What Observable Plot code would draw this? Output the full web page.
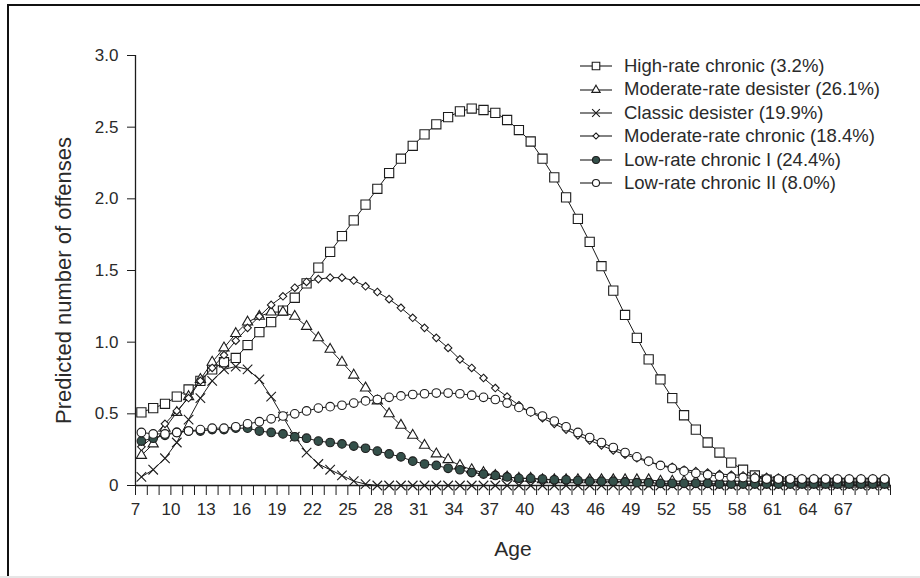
<!DOCTYPE html>
<html>
<head>
<meta charset="utf-8">
<script src="https://cdn.jsdelivr.net/npm/d3@7"></script>
<script src="https://cdn.jsdelivr.net/npm/@observablehq/plot@0.6"></script>
<style>
  body { margin: 0; background: #fff; }
  #wrap { position: relative; width: 920px; height: 578px; overflow: hidden;
          font-family: "Liberation Sans", Arial, Helvetica, sans-serif; background: #fff; }
  #frame { position: absolute; left: 7px; top: 4px; width: 930px; height: 572px;
           border-left: 2.5px solid #111; border-top: 2.5px solid #111; box-sizing: border-box; pointer-events: none; }
  #bottomstrip { position: absolute; left: 0; top: 576px; width: 920px; height: 2px; background: #e6e6e6; }
  #legend { position: absolute; left: 580px; top: 54.5px; }
  .lrow { display: flex; align-items: center; height: 23.4px; }
  .lrow svg { width: 34px; height: 22px; margin-right: 10px; overflow: visible; }
  .lrow span { font-size: 18.5px; color: #2a2a2a; white-space: nowrap; line-height: 1; }
</style>
</head>
<body>
<div id="wrap"></div>
<script>
// Ages (years 7 to 70), one predicted value per age for each trajectory group
const ages = [7,8,9,10,11,12,13,14,15,16,17,18,19,20,21,22,23,24,25,26,27,28,29,30,31,32,33,34,35,36,37,38,
  39,40,41,42,43,44,45,46,47,48,49,50,51,52,53,54,55,56,57,58,59,60,61,62,63,64,65,66,67,68,69,70];

const yearTicks = [7,8,9,10,11,12,13,14,15,16,17,18,19,20,21,22,23,24,25,26,27,28,29,30,31,32,33,34,35,36,37,38,
  39,40,41,42,43,44,45,46,47,48,49,50,51,52,53,54,55,56,57,58,59,60,61,62,63,64,65,66,67,68,69,70,71];
const labelTicks = [7,10,13,16,19,22,25,28,31,34,37,40,43,46,49,52,55,58,61,64,67];
const yTicks = [0, 0.5, 1.0, 1.5, 2.0, 2.5, 3.0];

const highRateChronic = [0.51,0.54,0.57,0.62,0.67,0.73,0.81,0.86,0.89,0.98,1.07,1.14,1.22,1.31,1.41,1.52,
  1.63,1.74,1.85,1.96,2.07,2.18,2.28,2.37,2.45,2.52,2.57,2.61,2.63,2.62,2.60,2.55,2.48,2.40,2.28,
  2.15,2.01,1.86,1.70,1.53,
  1.36,1.19,1.03,0.88,0.74,0.61,0.49,0.39,0.30,0.23,0.16,0.11,0.07,0.04,
  0.03,0.03,0.02,0.02,0.02,0.02,0.02,0.02,0.02,0.02];

const moderateRateDesister = [0.21,0.29,0.40,0.51,0.62,0.74,0.86,0.96,1.06,1.14,1.18,1.21,1.21,1.18,1.11,1.03,
  0.95,0.86,0.77,0.68,0.59,0.50,0.42,0.35,0.28,0.22,0.18,0.14,0.11,0.09,0.07,0.06,0.05,0.05,
  0.04,0.04,0.04,0.04,0.04,0.04,0.04,0.04,0.04,0.04,
  0.03,0.03,0.03,0.03,0.03,0.03,0.03,0.03,0.03,0.03,0.03,0.03,0.03,0.03,0.03,0.03,0.03,0.03,0.03,0.03];

const classicDesister = [0.06,0.11,0.19,0.30,0.46,0.61,0.73,0.81,0.83,0.81,0.74,0.62,0.48,0.34,0.23,0.15,
  0.11,0.07,0.03,0.01,0,0,0,0,0,0,0,0,0,0,0,0,0,0,0,0,0,0,0,0,0,0,0,0,0,0,0,0,0,0,0,0,0,0,0,0,0,0,0,0,0,0,0,0];

const moderateRateChronic = [0.27,0.34,0.43,0.52,0.61,0.73,0.82,0.91,1.01,1.10,1.18,1.26,1.32,1.38,1.42,1.44,
  1.45,1.45,1.43,1.39,1.35,1.30,1.24,1.17,1.10,1.03,0.96,0.88,0.82,0.75,0.68,0.62,0.56,0.51,
  0.47,0.43,0.39,0.35,0.315,0.28,0.245,0.215,0.19,0.165,0.14,0.13,0.11,0.10,0.09,0.08,0.075,0.07,0.065,0.06,
  0.055,0.05,0.05,0.05,0.05,0.05,0.05,0.05,0.05,0.05];

const lowRateChronicI = [0.31,0.33,0.35,0.37,0.38,0.38,0.39,0.39,0.40,0.40,0.38,0.37,0.36,0.34,0.33,0.31,
  0.30,0.29,0.275,0.26,0.24,0.22,0.20,0.17,0.15,0.14,0.12,0.11,0.09,0.08,0.07,0.06,0.05,0.05,
  0.045,0.04,0.04,0.035,0.03,0.03,0.03,0.025,0.02,0.02,0.015,0.015,0.015,0.015,0.015,
  0.01,0.01,0.01,0.01,0.01,0.01,0.01,0.01,0.01,0.01,0.01,0.01,0.01,0.01,0.01];

const lowRateChronicII = [0.37,0.36,0.36,0.37,0.38,0.39,0.40,0.40,0.41,0.43,0.445,0.465,0.485,0.50,0.52,0.54,
  0.55,0.56,0.575,0.59,0.60,0.615,0.625,0.635,0.64,0.645,0.645,0.64,0.63,0.615,0.60,0.575,0.545,0.515,
  0.485,0.45,0.41,0.37,0.335,0.30,0.265,0.23,0.20,0.17,0.14,0.12,0.10,0.085,0.075,0.065,0.06,0.055,0.05,0.045,
  0.045,0.045,0.045,0.045,0.045,0.045,0.045,0.045,0.045,0.045];

const seriesNames = [
  "High-rate chronic (3.2%)",
  "Moderate-rate desister (26.1%)",
  "Classic desister (19.9%)",
  "Moderate-rate chronic (18.4%)",
  "Low-rate chronic I (24.4%)",
  "Low-rate chronic II (8.0%)"
];
const seriesValues = [highRateChronic, moderateRateDesister, classicDesister, moderateRateChronic, lowRateChronicI, lowRateChronicII];

// styles per series
const ink = "#1c1c1c";
const styles = [
  {symbol: "square",   r: 5.2, fill: "white"},
  {symbol: "triangle", r: 3.8, fill: "white"},
  {symbol: "times",    r: 4.4, fill: "none"},
  {symbol: "diamond2", r: 3.4, fill: "white"},
  {symbol: "circle",   r: 4.3, fill: "#34504a"},
  {symbol: "circle",   r: 4.3, fill: "white"}
];

const rows = seriesNames.flatMap((name, k) =>
  ages.map((age, i) => ({series: name, age, value: seriesValues[k][i]})));

// each age is a one-year interval; points sit at its middle
const xMid = d => d.age + 0.5;

const marks = [
  Plot.ruleY([0], {stroke: ink, strokeWidth: 1.3}),
  Plot.ruleX([7], {stroke: ink, strokeWidth: 1.3}),
  Plot.axisX({ticks: yearTicks, tickSize: 10, tickFormat: () => "", label: null, stroke: ink}),
  Plot.axisX({ticks: labelTicks, tickSize: 0, tickPadding: 17, fontSize: 17, label: null, fill: "#2a2a2a"}),
  Plot.axisY({ticks: yTicks, tickSize: 8, tickPadding: 9, fontSize: 17, label: null, fill: "#2a2a2a", stroke: ink,
    tickFormat: d => d === 0 ? "0" : d.toFixed(1)}),
  Plot.text(["Predicted number of offenses"], {frameAnchor: "left", textAnchor: "middle", dx: -72, dy: 10,
    rotate: -90, fontSize: 22, fill: "#2a2a2a"}),
  Plot.text(["Age"], {frameAnchor: "bottom", dy: 70, fontSize: 21, fill: "#2a2a2a"})
];

seriesNames.forEach((name, k) => {
  const d = rows.filter(r => r.series === name);
  const s = styles[k];
  marks.push(Plot.line(d, {x: xMid, y: "value", stroke: ink, strokeWidth: 1}));
  marks.push(Plot.dot(d, {x: xMid, y: "value", symbol: s.symbol, r: s.r, fill: s.fill,
    stroke: ink, strokeWidth: 1.1}));
});

const chart = Plot.plot({
  width: 920,
  height: 578,
  marginLeft: 135,
  marginRight: 30,
  marginTop: 55,
  marginBottom: 93,
  style: {fontFamily: '"Liberation Sans", Arial, Helvetica, sans-serif', color: ink, background: "white"},
  x: {domain: [7, 71], axis: null},
  y: {domain: [0, 3], axis: null},
  marks
});

const wrap = document.getElementById("wrap");
wrap.appendChild(chart);

// frame lines of the scanned figure
const frame = document.createElement("div"); frame.id = "frame"; wrap.appendChild(frame);
const strip = document.createElement("div"); strip.id = "bottomstrip"; wrap.appendChild(strip);

// legend inside the plot area, top right
const symbolTypes = {square: d3.symbolSquare, triangle: d3.symbolTriangle, times: d3.symbolTimes,
  diamond2: d3.symbolDiamond2, circle: d3.symbolCircle};
const legend = d3.select(wrap).append("div").attr("id", "legend");
seriesNames.forEach((name, k) => {
  const s = styles[k];
  const row = legend.append("div").attr("class", "lrow");
  const svg = row.append("svg");
  svg.append("line").attr("x1", 0).attr("x2", 32).attr("y1", 11).attr("y2", 11)
    .attr("stroke", ink).attr("stroke-width", 1.1);
  const rr = s.r * 0.82;
  svg.append("path")
    .attr("transform", "translate(16,11)")
    .attr("d", d3.symbol(symbolTypes[s.symbol], rr * rr * Math.PI)())
    .attr("fill", s.fill).attr("stroke", ink).attr("stroke-width", 1.1);
  row.append("span").text(name);
});
</script>
</body>
</html>
